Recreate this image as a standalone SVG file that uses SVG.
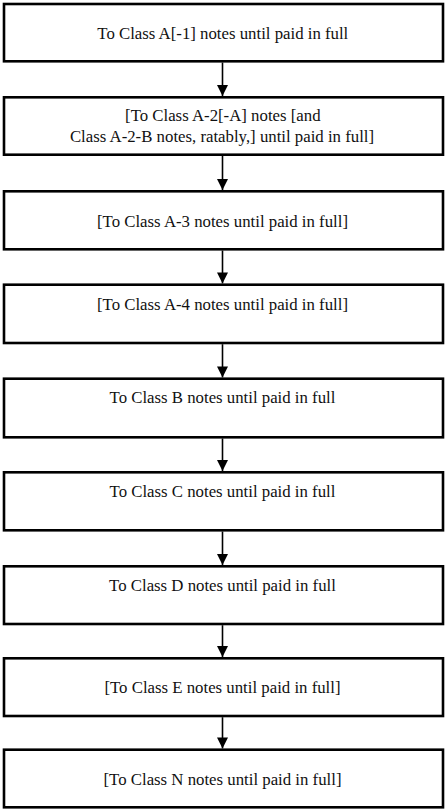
<svg xmlns="http://www.w3.org/2000/svg" width="445" height="812" viewBox="0 0 445 812">
<style>
.box{fill:#fff;stroke:#000;stroke-width:2.6}
.t{font-family:'Liberation Serif','Times New Roman',serif;font-size:16.8px;fill:#111;text-anchor:middle}
.c{stroke:#000;stroke-width:1.6;fill:none}
</style>
<defs>
<marker id="ah" markerUnits="userSpaceOnUse" markerWidth="12" markerHeight="11" refX="11" refY="5.5" orient="auto">
<path d="M0,0 L11,5.5 L0,11 Z" fill="#000"/>
</marker>
</defs>
<rect width="445" height="812" fill="#fff"/>
<g id="n1"><rect class="box" x="4" y="4" width="439" height="57.3"/><text class="t" x="222.8" y="39">To Class A[-1] notes until paid in full</text></g>
<g id="n2"><rect class="box" x="4" y="97.3" width="439" height="57.4"/><text class="t" x="222.8" y="121">[To Class A-2[-A] notes [and</text><text class="t" x="222" y="141.5">Class A-2-B notes, ratably,] until paid in full]</text></g>
<g id="n3"><rect class="box" x="4" y="191.3" width="439" height="58"/><text class="t" x="222.5" y="226.5">[To Class A-3 notes until paid in full]</text></g>
<g id="n4"><rect class="box" x="4" y="284.7" width="439" height="58.3"/><text class="t" x="222.5" y="309.5">[To Class A-4 notes until paid in full]</text></g>
<g id="n5"><rect class="box" x="4" y="378.7" width="439" height="58.6"/><text class="t" x="222.5" y="402.5">To Class B notes until paid in full</text></g>
<g id="n6"><rect class="box" x="4" y="472.3" width="439" height="58"/><text class="t" x="222.5" y="496.5">To Class C notes until paid in full</text></g>
<g id="n7"><rect class="box" x="4" y="566.3" width="439" height="57.7"/><text class="t" x="222.5" y="590.5">To Class D notes until paid in full</text></g>
<g id="n8"><rect class="box" x="4" y="658.3" width="439" height="57.7"/><text class="t" x="222.5" y="692.5">[To Class E notes until paid in full]</text></g>
<g id="n9"><rect class="box" x="4" y="749.7" width="439" height="57.6"/><text class="t" x="222.5" y="784.5">[To Class N notes until paid in full]</text></g>
<g id="connectors">
<line class="c" x1="222.5" y1="62.5" x2="222.5" y2="96" marker-end="url(#ah)"/>
<line class="c" x1="222.5" y1="156" x2="222.5" y2="190" marker-end="url(#ah)"/>
<line class="c" x1="222.5" y1="250.5" x2="222.5" y2="283.4" marker-end="url(#ah)"/>
<line class="c" x1="222.5" y1="344.2" x2="222.5" y2="377.4" marker-end="url(#ah)"/>
<line class="c" x1="222.5" y1="438.5" x2="222.5" y2="471" marker-end="url(#ah)"/>
<line class="c" x1="222.5" y1="531.5" x2="222.5" y2="565" marker-end="url(#ah)"/>
<line class="c" x1="222.5" y1="625.2" x2="222.5" y2="657" marker-end="url(#ah)"/>
<line class="c" x1="222.5" y1="717.2" x2="222.5" y2="748.4" marker-end="url(#ah)"/>
</g>
</svg>
